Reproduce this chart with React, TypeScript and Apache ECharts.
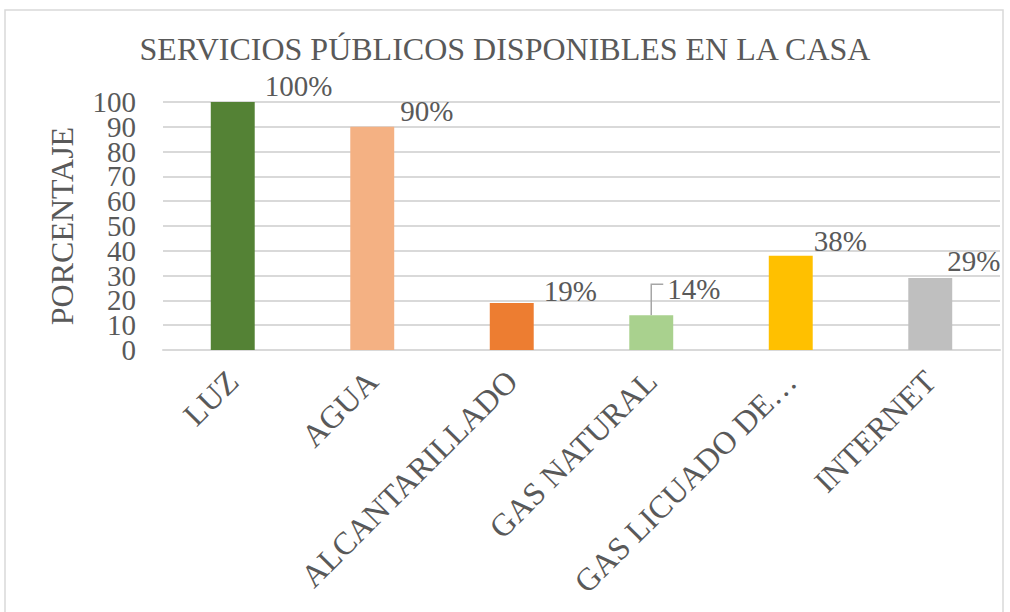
import React, { useEffect, useRef } from "react";
import * as echarts from "echarts";

const titleText = "SERVICIOS PÚBLICOS DISPONIBLES EN LA CASA";
const categories = ["LUZ", "AGUA", "ALCANTARILLADO", "GAS NATURAL", "GAS LICUADO DE…", "INTERNET"];
const values = [100, 90, 19, 14, 38, 29];
const barColors = ["#548235", "#F4B183", "#ED7D31", "#A9D18E", "#FFC000", "#BFBFBF"];
const yTickValues = [0, 10, 20, 30, 40, 50, 60, 70, 80, 90, 100];
const yAxisName = "PORCENTAJE";
const leaderIndex = 3; // the data label drawn with a leader line

// label placement relative to each bar's top-right corner (style only)
const labelShift = [
  [10, -16],
  [6, -16],
  [10, -12],
  [-6, -26],
  [1, -15],
  [-5, -17],
];

const FONT = "'Liberation Serif', 'Times New Roman', serif";
const TXT = "#595959";

export default function App() {
  const ref = useRef<HTMLDivElement>(null);
  useEffect(() => {
    if (!ref.current) return;
    const chart = echarts.init(ref.current, null, { renderer: "svg" });
    const yMin = yTickValues[0];
    const yMax = yTickValues[yTickValues.length - 1];
    const yStep = yTickValues[1] - yTickValues[0];
    const evenTicks = yTickValues.filter((_, i) => i % 2 === 0);
    const oddTicks = yTickValues.filter((_, i) => i % 2 === 1);
    const yLabel = {
      margin: 27,
      fontFamily: FONT,
      fontSize: 29,
      color: TXT,
      lineHeight: 20,
      showMinLabel: true,
      showMaxLabel: true,
      hideOverlap: false,
    };
    chart.setOption({
      animation: false,
      backgroundColor: "#ffffff",
      title: {
        text: titleText,
        left: "center",
        top: 28,
        textStyle: { fontFamily: FONT, fontSize: 32, fontWeight: "normal", color: TXT },
      },
      graphic: [
        {
          type: "rect",
          shape: { x: 5, y: 10, width: 998, height: 700 },
          style: { fill: "none", stroke: "#d9d9d9", lineWidth: 1.5 },
          silent: true,
        },
      ],
      grid: { left: 163, right: 10, top: 102, bottom: 262, containLabel: false },
      xAxis: {
        type: "category",
        data: categories,
        axisLine: { show: true, lineStyle: { color: "#d9d9d9", width: 2 } },
        axisTick: { show: false },
        axisLabel: {
          rotate: 45,
          interval: 0,
          margin: 26,
          fontFamily: FONT,
          fontSize: 32,
          color: TXT,
        },
      },
      yAxis: [
        {
          type: "value",
          position: "left",
          min: yMin,
          max: yMax,
          interval: yStep,
          name: yAxisName,
          nameLocation: "middle",
          nameRotate: 90,
          nameGap: 85,
          nameTextStyle: { fontFamily: FONT, fontSize: 32, color: TXT },
          axisLine: { show: false },
          axisTick: { show: false },
          splitLine: { lineStyle: { color: "#d9d9d9", width: 2 } },
          axisLabel: { ...yLabel, customValues: evenTicks },
        },
        {
          type: "value",
          position: "left",
          offset: 0,
          min: yMin,
          max: yMax,
          interval: yStep,
          axisLine: { show: false },
          axisTick: { show: false },
          splitLine: { show: false },
          axisLabel: { ...yLabel, customValues: oddTicks },
        },
      ],
      series: [
        {
          type: "bar",
          yAxisIndex: 0,
          barWidth: "31.5%",
          data: values.map((v, i) => ({
            value: v,
            itemStyle: { color: barColors[i] },
          })),
          label: {
            show: true,
            position: "top",
            formatter: "{c}%",
            fontFamily: FONT,
            fontSize: 29,
            color: TXT,
          },
          labelLayout: (p: any) => {
            const s = labelShift[p.dataIndex] || [0, 0];
            return {
              x: p.rect.x + p.rect.width + s[0],
              y: p.rect.y + s[1],
              align: "left",
              verticalAlign: "middle",
            };
          },
        },
        {
          type: "custom",
          yAxisIndex: 0,
          silent: true,
          data: [[leaderIndex, values[leaderIndex]]],
          renderItem: (params: any, api: any) => {
            const p = api.coord([api.value(0), api.value(1)]);
            return {
              type: "polyline",
              shape: { points: [[p[0], p[1]], [p[0], p[1] - 31], [p[0] + 12, p[1] - 31]] },
              style: { stroke: "#a6a6a6", lineWidth: 1.5, fill: "none" },
            };
          },
        },
      ],
    });
    return () => chart.dispose();
  }, []);
  return (
    <div
      ref={ref}
      style={{ position: "fixed", left: 0, top: 0, width: 1010, height: 612 }}
    />
  );
}
